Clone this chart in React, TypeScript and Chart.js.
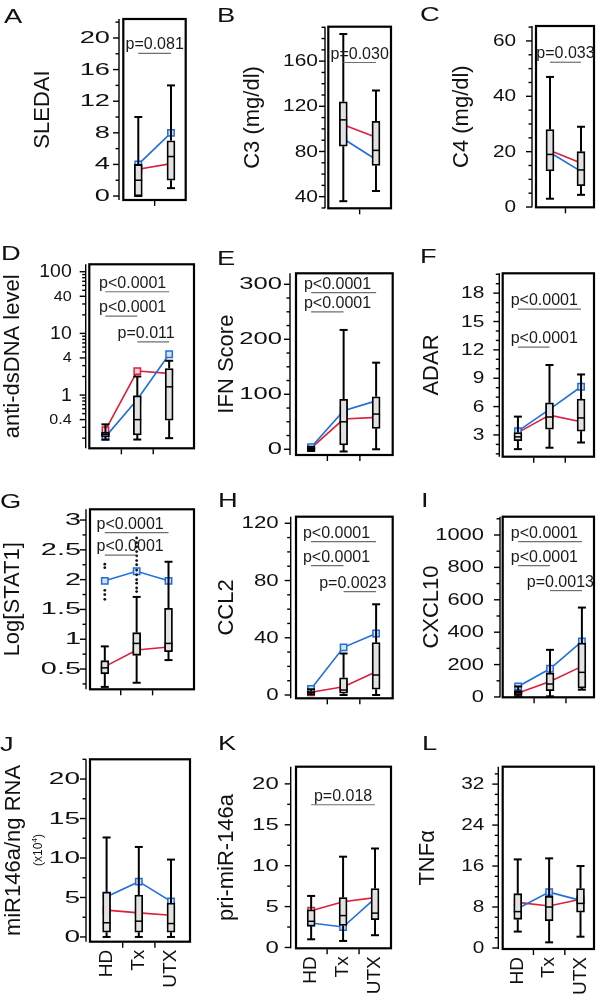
import React, { useEffect, useRef } from 'react';
import { Chart, registerables } from 'chart.js';

Chart.register(...registerables);

const FONT = '"Liberation Sans", Arial, Helvetica, sans-serif';
Chart.defaults.font.family = FONT;

const RED = '#dc1f3a';
const BLUE = '#1f6fdc';
const RED_FILL = '#f7d3d8';
const BLUE_FILL = '#d3e3fa';
const BOX_FILL = '#e2e2e2';
const BOX_W = 8;

// ---------- categories ----------
const catsPair = ['', ''];
const catsGroups = ['HD', 'Tx', 'UTX'];

// ---------- data (box stats + group means) ----------
const sledai = { lo: [0, 1], q1: [0, 2], med: [2, 5], q3: [4, 7], hi: [10, 14], red: [3.4, 4.1], blue: [4.0, 8.0] };
const c3 = { lo: [36, 45], q1: [84.7, 67.6], med: [108, 81], q3: [124, 106.7], hi: [184, 134], red: [103.7, 92.7], blue: [91.3, 72.9] };
const c4 = { lo: [3, 4.4], q1: [13, 7.7], med: [19, 13.4], q3: [28, 20], hi: [47, 29], red: [20.4, 15.9], blue: [19.7, 12.9] };
const dsdna = { lo: [0.19, 0.19, 0.2], q1: [0.21, 0.225, 0.39], med: [0.23, 0.4, 1.36], q3: [0.25, 0.97, 2.7], hi: [0.335, 2.0, 3.6], red: [0.27, 2.45, 2.25], blue: [0.21, 0.85, 4.6] };
const ifn = { lo: [-3, -4, 0], q1: [-1, 8, 38], med: [1, 50, 64], q3: [3, 91, 95.6], hi: [4.5, 217, 157.5], red: [2, 55, 58], blue: [3.6, 70, 88] };
const adar = { lo: [1.5, 1.65, 2.2], q1: [2.4, 3.6, 3.4], med: [2.8, 4.9, 4.8], q3: [3.25, 6.4, 6.8], hi: [4.94, 10.4, 9.4], red: [3.25, 5.1, 4.4], blue: [3.4, 5.7, 8.1] };
const stat1 = { lo: [0.2, 0.27, 0.65], q1: [0.42, 0.73, 0.79], med: [0.52, 0.93, 0.93], q3: [0.64, 1.11, 1.52], hi: [0.88, 1.71, 2.3], red: [0.54, 0.82, 0.87], blue: [1.98, 2.14, 1.98] };
const stat1OutHD = [2.26, 2.2, 1.82, 1.75, 1.67];
const stat1OutTx = [2.7, 2.62, 2.55, 2.47, 2.4, 2.32, 2.25, 2.16, 2.08, 2.0, 1.94, 1.86, 1.8];
const ccl2 = { lo: [0.5, 0, 0], q1: [1.2, 1.2, 4], med: [1.9, 3.5, 14], q3: [2.8, 12, 36.6], hi: [4, 29, 63.4], red: [1.9, 5.8, 16.3], blue: [4.2, 33.3, 43] };
const cxcl10 = { lo: [4, 4, 45], q1: [14, 39, 55], med: [28, 80, 152], q3: [39, 148, 333], hi: [65, 291, 552], red: [25, 96, 189], blue: [65, 174, 343] };
const mir146 = { lo: [0, 0, 0], q1: [0.6, 0.6, 0.6], med: [1.8, 2.0, 1.7], q3: [5.7, 5.3, 4.3], hi: [12.6, 11.4, 9.8], red: [3.4, 3.05, 2.75], blue: [5.1, 7.0, 4.5] };
const primir = { lo: [1.0, 0.8, 1.5], q1: [2.6, 2.7, 3.4], med: [3.2, 3.9, 4.2], q3: [4.6, 6.1, 7.2], hi: [6.3, 11.1, 12.1], red: [4.5, 5.6, 6.1], blue: [3.0, 2.5, 6.0] };
const tnfa = { lo: [3.2, 1.1, 2.2], q1: [5.6, 5.3, 7.0], med: [7.1, 8.0, 8.7], q3: [10.6, 10.1, 11.6], hi: [17.3, 17.5, 16.0], red: [8.9, 8.2, 9.5], blue: [7.7, 10.9, 9.3] };

// ---------- tick labels ----------
const sledaiTicks = [0, 4, 8, 12, 16, 20];
const c3Ticks = [40, 80, 120, 160];
const c4Ticks = [0, 20, 40, 60];
const dsdnaTicks = [0.4, 1, 4, 10, 40, 100];
const dsdnaSmallTicks = [0.4, 4, 40];
const ifnTicks = [0, 100, 200, 300];
const adarTicks = [3, 6, 9, 12, 15, 18];
const stat1Ticks = [0.5, 1, 1.5, 2, 2.5, 3];
const ccl2Ticks = [0, 40, 80, 120];
const cxcl10Ticks = [0, 200, 400, 600, 800, 1000];
const mirTicks = [0, 5, 10, 15, 20];
const primirTicks = [0, 5, 10, 15, 20];
const tnfTicks = [0, 8, 16, 24, 32];

function linearTicks(min: number, max: number, step: number) {
  const out: number[] = [];
  const start = Math.ceil(min / step - 1e-9);
  for (let k = start; k * step <= max + 1e-9; k++) out.push(+(k * step).toFixed(6));
  return out;
}
function logTicks(min: number, max: number) {
  const out: number[] = [];
  for (let e = -2; e <= 3; e++) for (let m = 1; m <= 9; m++) {
    const v = +(m * Math.pow(10, e)).toPrecision(6);
    if (v >= min && v <= max) out.push(v);
  }
  return out;
}

// ---------- panel layout ----------
const panels: any[] = [
  { letter: 'A', lx: 4, ly: 5, col: 0, title: 'SLEDAI', titleX: 43, cats: catsPair, d: sledai, type: 'linear', yMin: -0.5, yMax: 22.4, majors: sledaiTicks, step: 2, axisX: 119, frameR: 185.7, frameT: 19, frameB: 200, gap: 4.3, xMin: -0.59, xMax: 1.45,
    sx: 1.65, lg: 9,
    pv: [{ text: 'p=0.081', from: 0, to: 1, y: 18.06, tx: 0.5, align: 'center' }] },
  { letter: 'B', lx: 217, ly: 4, col: 200, title: 'C3 (mg/dl)', titleX: 253.3, cats: catsPair, d: c3, type: 'linear', yMin: 29.7, yMax: 190.5, majors: c3Ticks, step: 10, axisX: 325, frameR: 391, frameT: 26.7, frameB: 208.3, gap: 3.3, xMin: -0.56, xMax: 1.46,
    sx: 1.27, lg: 7,
    pv: [{ text: 'p=0.030', from: 0, to: 1, y: 158.8, tx: 0.5, align: 'center' }] },
  { letter: 'C', lx: 420, ly: 3, col: 400, title: 'C4 (mg/dl)', titleX: 461.7, cats: catsPair, d: c4, type: 'linear', yMin: -0.1, yMax: 65.4, majors: c4Ticks, step: 5, axisX: 532, frameR: 596, frameT: 26, frameB: 207.3, gap: 4, xMin: -0.58, xMax: 1.42,
    sx: 1.26, lg: 16,
    pv: [{ text: 'p=0.033', from: 0, to: 1, y: 52.3, tx: 0.5, align: 'center' }] },
  { letter: 'D', lx: 1, ly: 242, col: 0, title: 'anti-dsDNA level', titleX: 13.3, cats: catsGroups, d: dsdna, type: 'logarithmic', yMin: 0.137, yMax: 132, majors: dsdnaTicks, small: dsdnaSmallTicks, tickSize: 18, axisX: 85.7, frameR: 195, frameT: 264.3, frameB: 448.3, gap: 3.6, xMin: -0.62, xMax: 2.78,
    sx: 1.08, lg: 14,
    pv: [
      { text: 'p<0.0001', from: 0, to: 2, y: 47.4, tx: -0.2, align: 'left' },
      { text: 'p<0.0001', from: 0, to: 1, y: 19.1, tx: -0.2, align: 'left' },
      { text: 'p=0.011', from: 1, to: 2, y: 7.3, tx: 0.38, align: 'left' },
    ] },
  { letter: 'E', lx: 217, ly: 247, col: 200, title: 'IFN Score', titleX: 226.7, cats: catsGroups, d: ifn, type: 'linear', yMin: -10.4, yMax: 320, majors: ifnTicks, step: 25, axisX: 290, frameR: 392.7, frameT: 273.3, frameB: 455, gap: 6, xMin: -0.65, xMax: 2.51,
    sx: 1.55, lg: 8,
    pv: [
      { text: 'p<0.0001', from: 0, to: 2, y: 284.7, tx: -0.22, align: 'left' },
      { text: 'p<0.0001', from: 0, to: 1, y: 250, tx: -0.22, align: 'left' },
    ] },
  { letter: 'F', lx: 420, ly: 245, col: 400, title: 'ADAR', titleX: 431.7, cats: catsGroups, d: adar, type: 'linear', yMin: 0.7, yMax: 20.1, majors: adarTicks, step: 1, axisX: 499.3, frameR: 596, frameT: 273.3, frameB: 456.7, gap: 3.4, xMin: -0.59, xMax: 2.41,
    sx: 1.27, lg: 15,
    pv: [
      { text: 'p<0.0001', from: 0, to: 2, y: 16.3, tx: -0.23, align: 'left' },
      { text: 'p<0.0001', from: 0, to: 1, y: 12.3, tx: -0.23, align: 'left' },
    ] },
  { letter: 'G', lx: 0, ly: 490, col: 0, title: 'Log[STAT1]', titleX: 13.3, cats: catsGroups, d: stat1, type: 'linear', yMin: 0.16, yMax: 3.18, majors: stat1Ticks, step: 0.25, axisX: 86, frameR: 195, frameT: 509.3, frameB: 689.3, gap: 4, xMin: -0.59, xMax: 2.8,
    sx: 1.75, lg: 5,
    outHD: stat1OutHD, outTx: stat1OutTx,
    pv: [
      { text: 'p<0.0001', from: 0, to: 2, y: 2.79, tx: -0.26, align: 'left' },
      { text: 'p<0.0001', from: 0, to: 1, y: 2.41, tx: -0.26, align: 'left' },
    ] },
  { letter: 'H', lx: 218, ly: 489, col: 200, title: 'CCL2', titleX: 226.7, cats: catsGroups, d: ccl2, type: 'linear', yMin: -2.3, yMax: 124.6, majors: ccl2Ticks, step: 10, axisX: 290.7, frameR: 392.7, frameT: 516.7, frameB: 698.3, gap: 5.3, xMin: -0.625, xMax: 2.51,
    sx: 1.35, lg: 12,
    pv: [
      { text: 'p<0.0001', from: 0, to: 2, y: 107.2, tx: -0.25, align: 'left' },
      { text: 'p<0.0001', from: 0, to: 1, y: 90.4, tx: -0.25, align: 'left' },
      { text: 'p=0.0023', from: 1, to: 2, y: 72.2, tx: 0.25, align: 'left' },
    ] },
  { letter: 'I', lx: 421, ly: 489, col: 400, title: 'CXCL10', titleX: 431.7, cats: catsGroups, d: cxcl10, type: 'linear', yMin: -2, yMax: 1113, majors: cxcl10Ticks, step: 100, axisX: 500, frameR: 595, frameT: 516.7, frameB: 697.3, gap: 2.7, xMin: -0.57, xMax: 2.38,
    sx: 1.33, lg: 16,
    pv: [
      { text: 'p<0.0001', from: 0, to: 2, y: 958.7, tx: -0.23, align: 'left' },
      { text: 'p<0.0001', from: 0, to: 1, y: 810.8, tx: -0.23, align: 'left' },
      { text: 'p=0.0013', from: 1, to: 2, y: 656.8, tx: 0.27, align: 'left' },
    ] },
  { letter: 'J', lx: 0, ly: 733, col: 0, title: 'miR146a/ng RNA', titleX: 13.5, sub: true, cats: catsGroups, showCats: true, d: mir146, type: 'linear', yMin: -0.6, yMax: 22.5, majors: mirTicks, step: 2.5, axisX: 86, frameR: 190, frameT: 759.3, frameB: 941.7, gap: 4, xMin: -0.64, xMax: 2.59,
    sx: 1.7, lg: 6, pv: [] },
  { letter: 'K', lx: 218, ly: 732, col: 200, title: 'pri-miR-146a', titleX: 226.7, cats: catsGroups, showCats: true, d: primir, type: 'linear', yMin: -0.1, yMax: 22.1, majors: primirTicks, step: 2.5, axisX: 290.7, frameR: 391, frameT: 766.7, frameB: 948.3, gap: 5.3, xMin: -0.64, xMax: 2.5,
    sx: 1.45, lg: 12,
    pv: [{ text: 'p=0.018', from: 0, to: 2, y: 17.45, tx: 1, align: 'center' }] },
  { letter: 'L', lx: 422, ly: 732, col: 400, title: 'TNFα', titleX: 428.3, cats: catsGroups, showCats: true, d: tnfa, type: 'linear', yMin: -0.2, yMax: 35.4, majors: tnfTicks, step: 2, axisX: 498.3, frameR: 596.7, frameT: 766.7, frameB: 949, gap: 4.4, xMin: -0.62, xMax: 2.43,
    sx: 1.26, lg: 14, pv: [] },
];

function near(list: number[] | undefined, v: number) {
  if (!list) return undefined;
  return list.find((t) => Math.abs(t - v) < 1e-6 * Math.max(1, Math.abs(t)));
}

function Panel({ p }: { p: any }) {
  const ref = useRef<HTMLCanvasElement | null>(null);
  const top = Math.floor(p.frameT) - 12;
  const bottomExtra = p.showCats ? 56 : 20;
  const height = Math.ceil(p.frameB + bottomExtra - top);
  const width = 200;

  useEffect(() => {
    const d = p.d;
    const idx = d.med.map((_: number, i: number) => i);
    const tickVals = p.type === 'logarithmic' ? logTicks(p.yMin, p.yMax) : linearTicks(p.yMin, p.yMax, p.step);

    const datasets: any[] = [];
    const outliers: any[] = [];
    if (p.outHD) p.outHD.forEach((v: number) => outliers.push({ x: 0, y: v }));
    if (p.outTx) p.outTx.forEach((v: number) => outliers.push({ x: 1, y: v }));
    if (outliers.length) {
      datasets.push({ type: 'line', data: outliers, showLine: false, pointRadius: 1.4, pointHoverRadius: 1.4, pointBackgroundColor: '#111', pointBorderWidth: 0, order: -1 });
    }
    datasets.push({
      type: 'bar',
      data: idx.map((i: number) => ({ x: i, y: [d.q1[i], d.q3[i]] })),
      backgroundColor: BOX_FILL, borderColor: '#000', borderWidth: 1.8, borderSkipped: false,
      barThickness: BOX_W, grouped: false, order: 0,
    });
    const lineDs = (vals: number[], col: string, fill: string, order: number) => ({
      type: 'line',
      data: idx.map((i: number) => ({ x: i, y: vals[i] })),
      borderColor: col, borderWidth: 1.6, pointStyle: 'rect', pointRadius: 4.5, pointHoverRadius: 4.5,
      pointBorderWidth: 1.5, pointBorderColor: col, pointBackgroundColor: fill, tension: 0, order,
    });
    datasets.push(lineDs(d.blue, BLUE, BLUE_FILL, 1));
    datasets.push(lineDs(d.red, RED, RED_FILL, 2));

    const decor = {
      id: 'decor',
      afterDatasetsDraw(chart: any) {
        const { ctx, chartArea: a } = chart;
        const x = chart.scales.x;
        const y = chart.scales.y;
        const seg = (x1: number, y1: number, x2: number, y2: number) => {
          ctx.beginPath(); ctx.moveTo(x1, y1); ctx.lineTo(x2, y2); ctx.stroke();
        };
        ctx.save();
        // whiskers, caps, medians
        ctx.strokeStyle = '#000';
        const hw = BOX_W / 2;
        idx.forEach((i: number) => {
          const px = x.getPixelForValue(i);
          const pHi = y.getPixelForValue(d.hi[i]);
          const pLo = y.getPixelForValue(d.lo[i]);
          ctx.lineWidth = 2;
          seg(px, y.getPixelForValue(d.q3[i]), px, pHi);
          seg(px, y.getPixelForValue(d.q1[i]), px, pLo);
          seg(px - hw, pHi, px + hw, pHi);
          seg(px - hw, pLo, px + hw, pLo);
          const pm = y.getPixelForValue(d.med[i]);
          ctx.lineWidth = 1.5;
          seg(px - hw, pm, px + hw, pm);
        });
        // frame
        ctx.lineWidth = 2.2;
        ctx.strokeRect(a.left + p.gap, a.top, a.right - a.left - p.gap, a.bottom - a.top);
        // y axis line + ticks + labels
        ctx.lineWidth = 1.4;
        seg(a.left, a.top, a.left, a.bottom);
        ctx.fillStyle = '#111';
        ctx.textAlign = 'right';
        ctx.textBaseline = 'middle';
        y.ticks.forEach((t: any) => {
          const py = y.getPixelForValue(t.value);
          if (py < a.top - 0.5 || py > a.bottom + 0.5) return;
          const m = near(p.majors, t.value);
          const major = m !== undefined;
          const len = major ? 6 : 3.5;
          ctx.lineWidth = 1.4;
          seg(a.left - len, py, a.left, py);
          if (major) {
            const isSmall = near(p.small, t.value) !== undefined;
            const size = isSmall ? 14 : (p.tickSize || 16.5);
            const sx = isSmall ? 1.15 : p.sx;
            ctx.save();
            ctx.translate(a.left - p.lg, py + 0.5);
            ctx.scale(sx, 1);
            ctx.font = size + 'px ' + FONT;
            ctx.fillText(String(m), 0, 0);
            ctx.restore();
          }
        });
        // x ticks between categories
        ctx.lineWidth = 1.4;
        for (let i = 0; i < idx.length - 1; i++) {
          const px = x.getPixelForValue(i + 0.5);
          seg(px, a.bottom + 1, px, a.bottom + 6);
        }
        // p-values
        ctx.font = '16px ' + FONT;
        ctx.fillStyle = '#1a1a1a';
        ctx.textBaseline = 'alphabetic';
        p.pv.forEach((pv: any) => {
          const ly = y.getPixelForValue(pv.y);
          ctx.strokeStyle = '#6e6e6e';
          ctx.lineWidth = 1.2;
          seg(x.getPixelForValue(pv.from), ly, x.getPixelForValue(pv.to), ly);
          ctx.textAlign = pv.align;
          ctx.fillText(pv.text, x.getPixelForValue(pv.tx), ly - 4);
        });
        // sub-label for J
        if (p.sub) {
          ctx.save();
          ctx.translate(38.3 - p.col, 850 - top);
          ctx.rotate(-Math.PI / 2);
          ctx.fillStyle = '#111';
          ctx.textBaseline = 'middle';
          ctx.font = '12px ' + FONT;
          const s1 = '(x10', s2 = '4', s3 = ')';
          const w1 = ctx.measureText(s1).width;
          ctx.font = '8px ' + FONT;
          const w2 = ctx.measureText(s2).width;
          ctx.font = '12px ' + FONT;
          const w3 = ctx.measureText(s3).width;
          let cx = -(w1 + w2 + w3) / 2;
          ctx.textAlign = 'left';
          ctx.fillText(s1, cx, 0); cx += w1;
          ctx.font = '8px ' + FONT;
          ctx.fillText(s2, cx, -4); cx += w2;
          ctx.font = '12px ' + FONT;
          ctx.fillText(s3, cx, 0);
          ctx.restore();
        }
        ctx.restore();
      },
    };

    const chart = new Chart(ref.current as HTMLCanvasElement, {
      type: 'bar',
      data: { datasets },
      options: {
        responsive: false,
        maintainAspectRatio: false,
        animation: false,
        events: [],
        layout: { padding: { top: p.frameT - top, right: p.col + 200 - p.frameR, bottom: 0, left: 0 } },
        plugins: { legend: { display: false }, tooltip: { enabled: false } },
        scales: {
          x: {
            type: 'linear', min: p.xMin, max: p.xMax, offset: false,
            grid: { display: false, drawTicks: false }, border: { display: false },
            ticks: {
              display: !!p.showCats, autoSkip: false, maxRotation: 90, minRotation: 90, padding: 8,
              color: '#111', font: { size: 19, family: FONT },
              callback: (v: any) => p.cats[Math.round(v)] ?? '',
            },
            afterBuildTicks: (s: any) => { s.ticks = idx.map((i: number) => ({ value: i })); },
            afterFit: (s: any) => {
              s.height = height - (p.frameB - top);
              s.paddingLeft = 0; s.paddingRight = 0; s.paddingTop = 0; s.paddingBottom = 0;
            },
          },
          y: {
            type: p.type, min: p.yMin, max: p.yMax, bounds: 'data',
            grid: { display: false, drawTicks: false }, border: { display: false },
            ticks: { display: false, autoSkip: false },
            title: {
              display: true, text: p.title, color: '#111', font: { size: 22, family: FONT },
              padding: { top: Math.max(0, p.titleX - p.col - 13.2), bottom: 0 },
            },
            afterBuildTicks: (s: any) => { s.ticks = tickVals.map((v: number) => ({ value: v })); },
            afterFit: (s: any) => {
              s.width = p.axisX - p.col;
              s.paddingLeft = 0; s.paddingRight = 0; s.paddingTop = 0; s.paddingBottom = 0;
            },
          },
        },
      } as any,
      plugins: [decor],
    } as any);
    return () => chart.destroy();
  }, []);

  return (
    <canvas
      ref={ref}
      width={width}
      height={height}
      style={{ position: 'absolute', left: p.col, top, width, height }}
    />
  );
}

export default function App() {
  return (
    <div style={{ position: 'absolute', left: 0, top: 0, width: 600, height: 1000, background: '#fff', overflow: 'hidden' }}>
      {panels.map((p) => (
        <Panel key={p.letter} p={p} />
      ))}
      {panels.map((p) => (
        <div
          key={'l' + p.letter}
          style={{ position: 'absolute', left: p.lx, top: p.ly, fontFamily: FONT, fontSize: 21, lineHeight: '21px', color: '#111', transform: 'scaleX(1.3)', transformOrigin: 'left top' }}
        >
          {p.letter}
        </div>
      ))}
    </div>
  );
}
